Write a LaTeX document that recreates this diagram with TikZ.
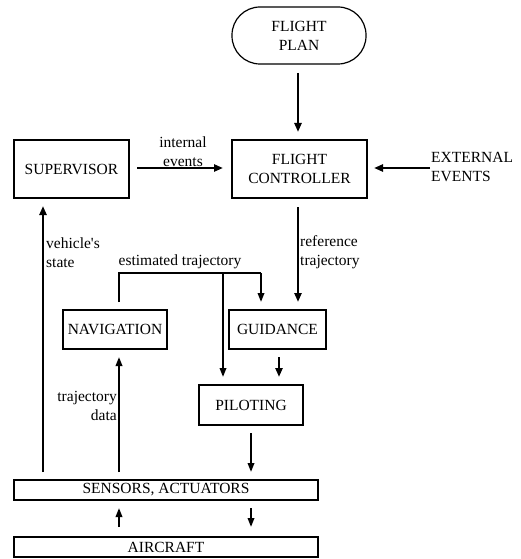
\documentclass[tikz,border=0pt]{standalone}
\usepackage{fontspec}
\setmainfont{Liberation Serif}
\newfontfamily\tmsfont{Liberation Serif}
\usetikzlibrary{arrows.meta}
\begin{document}
\begin{tikzpicture}[x=1pt,y=-1pt,
  font=\tmsfont\fontsize{15.5}{19}\selectfont,
  box/.style={draw,line width=2.6pt,inner sep=0pt,align=center},
  arr/.style={line width=2.6pt,-{Triangle[length=9pt,width=7pt]}},
  tarr/.style={line width=1.9pt,-{Triangle[length=9pt,width=6.5pt]}},
  tline/.style={line width=1.9pt},
  lbl/.style={inner sep=0pt,align=left}]
\useasboundingbox (0,0) rectangle (521,559);
% boxes
\node[draw,line width=1.2pt,rounded corners=28pt,minimum width=134pt,minimum height=57pt,inner sep=0pt,align=center] (plan) at (299,35.5) {FLIGHT\\PLAN};
\node[box,minimum width=135pt,minimum height=58pt] (ctrl) at (299.5,169) {FLIGHT\\CONTROLLER};
\node[box,minimum width=115pt,minimum height=58pt] (sup) at (71.5,169) {SUPERVISOR};
\node[box,minimum width=104pt,minimum height=39pt] (nav) at (115,329.5) {NAVIGATION};
\node[box,minimum width=97pt,minimum height=39pt] (guid) at (277.5,329.5) {GUIDANCE};
\node[box,minimum width=104pt,minimum height=40pt] (pil) at (251,405) {PILOTING};
\node[box,line width=2.3pt,minimum width=304pt,minimum height=20pt] (sens) at (166,490) {SENSORS, ACTUATORS};
\node[box,line width=2.3pt,minimum width=304pt,minimum height=20pt] (air) at (166,547) {AIRCRAFT};
% coordinates
\coordinate (ext) at (430,168);
\coordinate (a1) at (298,73);
\coordinate (a2) at (298,132);
\coordinate (s1) at (137,168);
\coordinate (s2) at (223,168);
\coordinate (e2) at (374,168);
\coordinate (r1) at (298,207);
\coordinate (r2) at (298,302);
\coordinate (v1) at (43,472);
\coordinate (v2) at (43,206);
\coordinate (n0) at (119,302);
\coordinate (n1) at (119,273);
\coordinate (n2) at (261,273);
\coordinate (n3) at (261,302);
\coordinate (b1) at (223,273);
\coordinate (b2) at (223,377);
\coordinate (g1) at (279,357);
\coordinate (g2) at (279,377);
\coordinate (p1) at (251,433);
\coordinate (p2) at (251,472);
\coordinate (t1) at (119,472);
\coordinate (t2) at (119,357);
\coordinate (c1) at (119,527);
\coordinate (c2) at (119,508);
\coordinate (d1) at (251,508);
\coordinate (d2) at (251,527);
% connectors
\draw[arr] (a1) -- (a2);
\draw[arr] (s1) -- (s2);
\draw[arr] (ext) -- (e2);
\draw[arr] (r1) -- (r2);
\draw[arr] (v1) -- (v2);
\draw[tline] (n0) -- (n1) -- (n2);
\draw[tarr] (n2) -- (n3);
\draw[tarr] (b1) -- (b2);
\draw[arr] (g1) -- (g2);
\draw[tarr] (p1) -- (p2);
\draw[tarr] (t1) -- (t2);
\draw[tarr] (c1) -- (c2);
\draw[tarr] (d1) -- (d2);
% labels
\node[lbl,align=center] (lint) at (183,151.5) {internal\\events};
\node[lbl,anchor=west] (lext) at (431,167.5) {EXTERNAL\\EVENTS};
\node[lbl,anchor=west] (lref) at (300,252.5) {reference\\trajectory};
\node[lbl,anchor=west] (lveh) at (46,252.5) {vehicle's\\state};
\node[lbl] (lest) at (180,262) {estimated trajectory};
\node[lbl,anchor=east,align=right] (ltra) at (117,405.5) {trajectory\\data};
\end{tikzpicture}
\end{document}
